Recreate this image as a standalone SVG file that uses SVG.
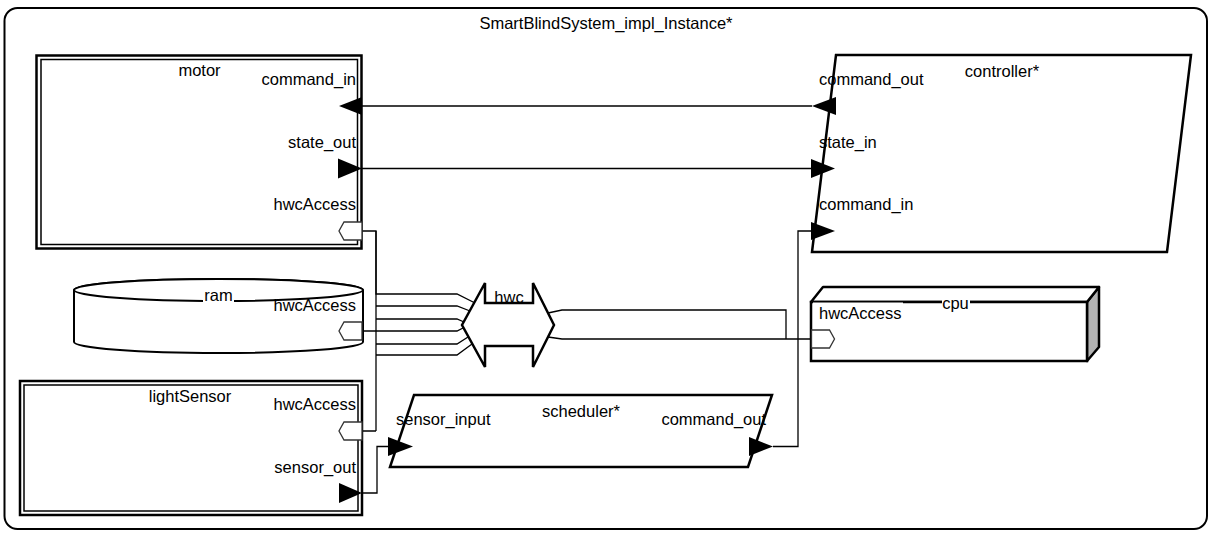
<svg xmlns="http://www.w3.org/2000/svg" width="1212" height="534" viewBox="0 0 1212 534">
<style>
.lbl{font-family:"Liberation Sans",Arial,sans-serif;font-size:16.5px;fill:#000}
.mid{text-anchor:middle}
.end{text-anchor:end}
.shape{fill:#fff;stroke:#000;stroke-width:2.5}
.inner{fill:none;stroke:#000;stroke-width:1.5}
.port{fill:#fff;stroke:#333;stroke-width:1.3}
.arrow{fill:#000;stroke:none}
.conn{fill:none;stroke:#000;stroke-width:1.3}
.bg{fill:#fff;stroke:none}
</style>
<rect width="1212" height="534" fill="#fff"/>
<g id="SmartBlindSystem_impl_Instance">
<rect x="4.5" y="8" width="1202.5" height="521" rx="13" fill="#fff" stroke="#000" stroke-width="2"/>
<text class="lbl mid" x="606" y="29">SmartBlindSystem_impl_Instance*</text>
</g>
<g id="connectors">
<path class="conn" d="M362,106 H812"/>
<path class="conn" d="M362,168.5 H811"/>
<path class="conn" d="M773,446.5 H798 V231 H811"/>
<path class="conn" d="M362,493 H377 V446.5 H388"/>
<path class="conn" d="M376,231 V431"/>
<path class="conn" d="M362,231 H376 V294 H457 L475,303"/>
<path class="conn" d="M376,306 H457 L470,311"/>
<path class="conn" d="M376,319 H457 L464,322"/>
<path class="conn" d="M362,331 H457 L464,327.5"/>
<path class="conn" d="M376,344 H457 L468,337"/>
<path class="conn" d="M362,431 H376 M376,355 H457 L472,344"/>
<path class="conn" d="M548,313 L562,310 H786 V339"/>
<path class="conn" d="M548,337 L562,339 H811"/>
</g>
<g id="motor">
<rect class="shape" x="36.5" y="55.5" width="325" height="193"/>
<rect class="inner" x="41" y="59.5" width="316.5" height="185"/>
<text class="lbl mid" x="199.5" y="76">motor</text>
<text class="lbl end" x="356" y="85">command_in</text>
<text class="lbl end" x="356" y="148">state_out</text>
<text class="lbl end" x="356" y="210">hwcAccess</text>
<polygon class="arrow" points="339,106 362,97 362,115"/>
<polygon class="arrow" points="338,158.5 338,178.5 362,168.5"/>
<polygon class="port" points="362,222 344,222 339,231 344,240 362,240"/>
</g>
<g id="controller">
<polygon class="shape" points="836,55 1191,55 1167,252 812,252"/>
<text class="lbl mid" x="1002" y="77">controller*</text>
<text class="lbl" x="819" y="85">command_out</text>
<text class="lbl" x="819" y="148">state_in</text>
<text class="lbl" x="819" y="210">command_in</text>
<polygon class="arrow" points="812,106 836,97 836,115"/>
<polygon class="arrow" points="811,159 811,178 835,168.5"/>
<polygon class="arrow" points="811,222 811,240 835,231"/>
</g>
<g id="ram">
<path d="M74,290 V342 A144.5,11 0 0 0 363,342 V290 A144.5,11 0 0 0 74,290 Z" fill="#fff" stroke="#000" stroke-width="2"/>
<ellipse cx="218.5" cy="290" rx="144.5" ry="11" fill="#fff" stroke="#000" stroke-width="2"/>
<rect class="bg" x="203" y="290" width="31" height="13.5"/>
<text class="lbl mid" x="218.5" y="300.5">ram</text>
<text class="lbl end" x="356" y="310.5">hwcAccess</text>
<polygon class="port" points="362,322 344,322 339,331 344,340 362,340"/>
</g>
<g id="hwc">
<polygon class="shape" points="462,325 485,283 485,303 533,303 533,283 554,325 533,367 533,346 485,346 485,367"/>
<text class="lbl mid" x="509" y="303">hwc</text>
</g>
<g id="cpu">
<polygon points="1087,302 1099,287 1099,347 1087,361" fill="#b3b3b3" stroke="#000" stroke-width="2.5" stroke-linejoin="round"/>
<polygon points="811,302 823,287 1099,287 1087,302" fill="#fff" stroke="#000" stroke-width="2.5" stroke-linejoin="round"/>
<rect class="shape" x="811" y="302" width="276" height="59"/>
<rect class="bg" x="813" y="302.5" width="90" height="20"/>
<rect class="bg" x="942" y="300" width="28" height="13"/>
<text class="lbl mid" x="955.5" y="309">cpu</text>
<text class="lbl" x="819" y="318.5">hwcAccess</text>
<polygon class="port" points="811.5,330 829.5,330 834.5,339 829.5,348 811.5,348"/>
</g>
<g id="lightSensor">
<rect class="shape" x="20" y="381" width="342" height="134"/>
<rect class="inner" x="24" y="385" width="334" height="126"/>
<text class="lbl mid" x="190" y="402">lightSensor</text>
<text class="lbl end" x="356" y="410">hwcAccess</text>
<text class="lbl end" x="356" y="473">sensor_out</text>
<polygon class="port" points="362,422 344,422 339,431 344,440 362,440"/>
<polygon class="arrow" points="339,483 339,503 362,493"/>
</g>
<g id="scheduler">
<polygon class="shape" points="414,395 772,395 748,467 390,467"/>
<text class="lbl mid" x="581" y="417">scheduler*</text>
<text class="lbl" x="396" y="425">sensor_input</text>
<text class="lbl end" x="766" y="425">command_out</text>
<polygon class="arrow" points="388,437 388,456 413,446.5"/>
<polygon class="arrow" points="749,437 749,456 773,446.5"/>
</g>
</svg>
